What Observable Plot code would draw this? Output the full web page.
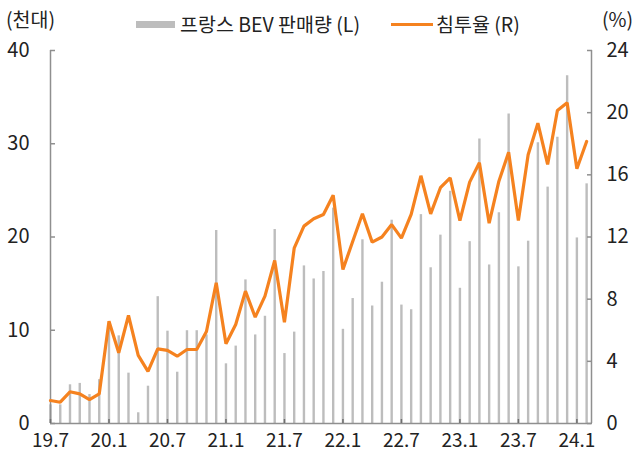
<!DOCTYPE html>
<html>
<head>
<meta charset="utf-8">
<script src="https://cdn.jsdelivr.net/npm/d3@7"></script>
<script src="https://cdn.jsdelivr.net/npm/@observablehq/plot@0.6"></script>
<style>
  html, body { margin: 0; padding: 0; background: #fff; }
  #wrap { position: relative; width: 632px; height: 454px; font-family: "Noto Sans CJK KR", "Noto Sans", sans-serif; color: #222; }
  .lbl { position: absolute; font-size: 19.5px; line-height: 1; white-space: nowrap; }
  .sw { position: absolute; }
</style>
</head>
<body>
<div id="wrap">
  <div class="lbl" style="left:6px; top:9px;">(천대)</div>
  <div class="lbl" style="left:602px; top:9px;">(%)</div>
  <div class="sw" style="left:136px; top:21px; width:39px; height:7px; background:#bdbdbd;"></div>
  <div class="lbl" style="left:180px; top:14px;">프랑스 BEV 판매량 (L)</div>
  <div class="sw" style="left:391px; top:23px; width:42px; height:3px; background:#f5821f;"></div>
  <div class="lbl" style="left:436px; top:14px;">침투율 (R)</div>
</div>
<script>
// Monthly data, 2019.7 – 2024.2
const sales = [ // 프랑스 BEV 판매량 (천대), left axis
  2.0, 2.0, 4.15, 4.3, 3.1, 4.7, 10.5, 9.4, 5.4, 1.15, 4.0, 13.6,
  9.9, 5.5, 9.95, 9.95, 9.5, 20.7, 6.4, 8.3, 15.4, 9.5, 11.5, 20.8,
  7.5, 9.8, 16.9, 15.5, 16.3, 23.1, 10.1, 13.4, 19.7, 12.6, 15.15, 21.8,
  12.7, 12.2, 22.4, 16.7, 20.2, 24.9, 14.5, 19.5, 30.5, 17.0, 22.6, 33.2,
  16.8, 19.55, 30.1, 25.35, 30.7, 37.3, 19.9, 25.7
];
const share = [ // 침투율 (%), right axis
  1.48, 1.37, 2.04, 1.91, 1.54, 1.91, 6.58, 4.55, 6.95, 4.38, 3.35, 4.8,
  4.7, 4.33, 4.76, 4.76, 5.92, 9.05, 5.13, 6.37, 8.52, 6.84, 8.2, 10.49,
  6.52, 11.28, 12.7, 13.17, 13.45, 14.69, 9.91, 11.71, 13.49, 11.67, 12.0, 12.8,
  11.93, 13.45, 15.94, 13.49, 15.17, 15.81, 13.06, 15.53, 16.78, 12.89, 15.59, 17.46,
  13.06, 17.29, 19.32, 16.67, 20.14, 20.64, 16.39, 18.15
];
const xTickLabels = ["19.7","20.1","20.7","21.1","21.7","22.1","22.7","23.1","23.7","24.1"];
const leftTicks = [0, 10, 20, 30, 40];
const rightTicks = [0, 4, 8, 12, 16, 20, 24];

const L_MAX = 40, R_MAX = 24, k = L_MAX / R_MAX;
const data = sales.map((v, i) => ({i, sales: v, share: share[i] * k}));
const xTicks = xTickLabels.map((_, j) => j * 6);
const xMax = sales.length - 0.5;
const axisColor = "#8f8f8f";

const chart = Plot.plot({
  width: 632,
  height: 454,
  marginTop: 50,
  marginBottom: 31,
  marginLeft: 50,
  marginRight: 41,
  style: {fontFamily: '"Noto Sans CJK KR", "Noto Sans", sans-serif', fontSize: "20px", color: "#222", background: "transparent"},
  x: {type: "linear", domain: [0, xMax], axis: null},
  y: {domain: [0, L_MAX], axis: null},
  marks: [
    Plot.ruleX(data, {x: "i", y1: 0, y2: "sales", stroke: "#bdbdbd", strokeWidth: 2.4}),
    Plot.ruleX([0], {stroke: axisColor, strokeWidth: 1.5}),
    Plot.ruleX([xMax], {stroke: axisColor, strokeWidth: 1.5}),
    Plot.ruleY([0], {stroke: axisColor, strokeWidth: 1.5}),
    Plot.axisY({anchor: "left", ticks: leftTicks, tickSize: -5, fill: "none", stroke: axisColor, strokeWidth: 1.5}),
    Plot.axisY({anchor: "left", ticks: leftTicks, tickSize: 0, tickPadding: 21, fill: "#222", label: null}),
    Plot.axisY({anchor: "right", ticks: rightTicks.map(v => v * k), tickSize: -5, fill: "none", stroke: axisColor, strokeWidth: 1.5}),
    Plot.axisY({anchor: "right", ticks: rightTicks.map(v => v * k), tickSize: 0, tickPadding: 15, fill: "#222", label: null,
      tickFormat: d => String(Math.round(d / k))}),
    Plot.axisX({anchor: "bottom", ticks: xTicks, tickSize: -4, fill: "none", stroke: "#6f6f6f", strokeWidth: 1.5}),
    Plot.axisX({anchor: "bottom", ticks: xTicks, tickSize: 0, tickPadding: 10, fill: "#222", label: null, fontSize: 19,
      tickFormat: d => xTickLabels[Math.round(d / 6)]}),
    Plot.line(data, {x: "i", y: "share", stroke: "#f5821f", strokeWidth: 3.2, strokeLinejoin: "miter", curve: "linear"})
  ]
});
chart.style.position = "absolute";
chart.style.left = "0";
chart.style.top = "0";
document.getElementById("wrap").prepend(chart);
</script>
</body>
</html>
